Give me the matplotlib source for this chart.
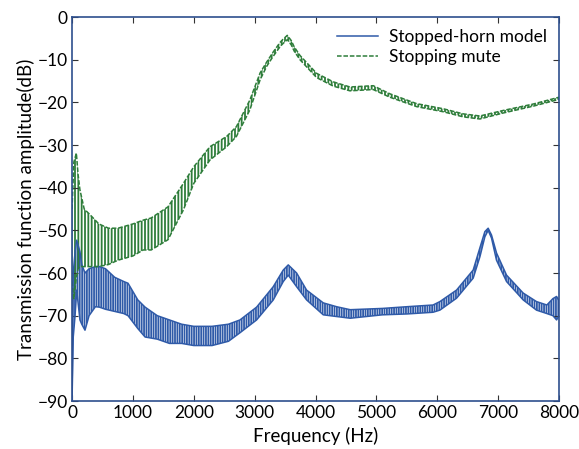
import matplotlib as mpl
import matplotlib.pyplot as plt

mpl.rcParams.update({
    "font.family": ["Lato", "DejaVu Sans"],
    "font.size": 12.5,
    "hatch.linewidth": 1.3,
})

BLUE = "#2f5aa8"
GREEN = "#2e7d3a"
SPINE = "#2d4f8e"

# Stopped-horn model: frequency (Hz) with upper / lower envelope of the ripple (dB)
horn_f = [0, 20, 50, 77, 130, 160, 213, 280, 384, 450, 550, 700, 850, 920,
          1080, 1200, 1400, 1600, 1800, 2000, 2300, 2570, 2759, 3032, 3306,
          3470, 3552, 3689, 3853, 4127, 4346, 4570, 5100, 5500, 5930, 6043,
          6317, 6590, 6700, 6782, 6836, 6891, 6973, 7138, 7411, 7630, 7800,
          7900, 7960, 8000]
horn_hi = [-90, -60, -55, -52.3, -55, -58, -60, -59, -58.5, -58.5, -59, -61,
           -62, -62.4, -66.3, -68, -70, -71, -72, -72.5, -72.5, -72, -71,
           -68, -63.2, -59.3, -58.1, -60, -64, -67, -67.9, -68.6, -68.3,
           -67.9, -67.5, -66.7, -64, -59.3, -54.1, -50.3, -49.5, -51.1,
           -55.3, -60.5, -64.7, -66.7, -67.5, -66, -65.5, -66.5]
horn_lo = [-90, -75, -70, -64, -71, -72, -73.4, -70, -67.9, -68, -68.5, -69,
           -69.5, -70, -73, -75, -75.5, -76.5, -76.5, -77, -77, -76, -74,
           -71, -66.3, -62, -60.5, -63.2, -66.3, -69.8, -70.2, -70.6, -69.8,
           -69.6, -69.2, -68.7, -65.9, -61.2, -56.2, -51.5, -50, -51.8, -57,
           -62, -66.3, -68.7, -69.5, -70, -71, -70]

# Stopping mute
mute_f = [0, 30, 71, 100, 130, 200, 300, 440, 600, 755, 1000, 1170, 1300,
          1576, 1830, 2000, 2266, 2540, 2700, 2920, 3090, 3200, 3300, 3415,
          3460, 3536, 3600, 3650, 3744, 4018, 4292, 4565, 4948, 5222, 5660,
          6097, 6426, 6700, 7083, 7575, 8000]
mute_hi = [-45, -34, -31.9, -37, -40.5, -45, -46.4, -48.5, -49.5, -49.5,
           -48.5, -47.6, -47.1, -44.5, -39, -35.1, -30.4, -28, -25.7, -19.5,
           -13.1, -10.5, -8.3, -6, -5.3, -4.3, -5.5, -7, -9, -13.2, -15.2,
           -16.4, -16.1, -18, -20.3, -21.5, -22.7, -23.2, -21.9, -20.4, -18.8]
mute_lo = [-62, -66, -61, -59, -58.5, -58.5, -58.5, -58.5, -58, -57, -56,
           -54.6, -54.6, -52.2, -45.2, -39, -33.5, -30.4, -28, -21.8, -14.7,
           -11.5, -9.3, -7, -6.3, -5.3, -6.5, -8, -10, -14.2, -16.2, -17.3,
           -17, -18.8, -21, -22.2, -23.4, -23.9, -22.5, -20.9, -19.3]


def main():
    fig = plt.figure(figsize=(5.79, 4.49), dpi=100)
    ax = fig.add_axes([0.1244, 0.1069, 0.8411, 0.8552])

    # dense ripple drawn as a hatched band between the envelopes
    ax.fill_between(horn_f, horn_lo, horn_hi, facecolor="none",
                    edgecolor=BLUE, hatch="|" * 7, linewidth=0)
    ax.fill_between(mute_f, mute_lo, mute_hi, facecolor="none",
                    edgecolor=GREEN, hatch="|" * 5, linewidth=0)

    ax.plot(horn_f, horn_hi, color=BLUE, lw=1.1, label="Stopped-horn model")
    ax.plot(horn_f, horn_lo, color=BLUE, lw=1.1)
    ax.plot(mute_f, mute_hi, color=GREEN, lw=1.1, ls="--", dashes=(3, 1.2),
            label="Stopping mute")
    ax.plot(mute_f, mute_lo, color=GREEN, lw=1.1, ls="--", dashes=(3, 1.2))

    ax.set_xlim(0, 8000)
    ax.set_ylim(-90, 0)
    ax.set_xticks(range(0, 8001, 1000))
    ax.set_yticks(range(-90, 1, 10))
    ax.tick_params(direction="in", top=True, right=True, length=4,
                   color="#333333", labelsize=12.5, pad=3)
    ax.set_yticklabels([f"\u2212{-v}" if v < 0 else str(v) for v in range(-90, 1, 10)])
    for s in ax.spines.values():
        s.set_color(SPINE)
        s.set_linewidth(1.2)

    ax.set_xlabel("Frequency (Hz)", fontsize=13.5, labelpad=4)
    ax.set_ylabel("Transmission function amplitude(dB)", fontsize=13.5, labelpad=2)

    ax.legend(loc="upper right", frameon=False, fontsize=12.5,
              handlelength=2.4, handletextpad=0.6, borderaxespad=0.3,
              labelspacing=0.2)

    fig.savefig("out.png", dpi=100)


if __name__ == "__main__":
    main()
